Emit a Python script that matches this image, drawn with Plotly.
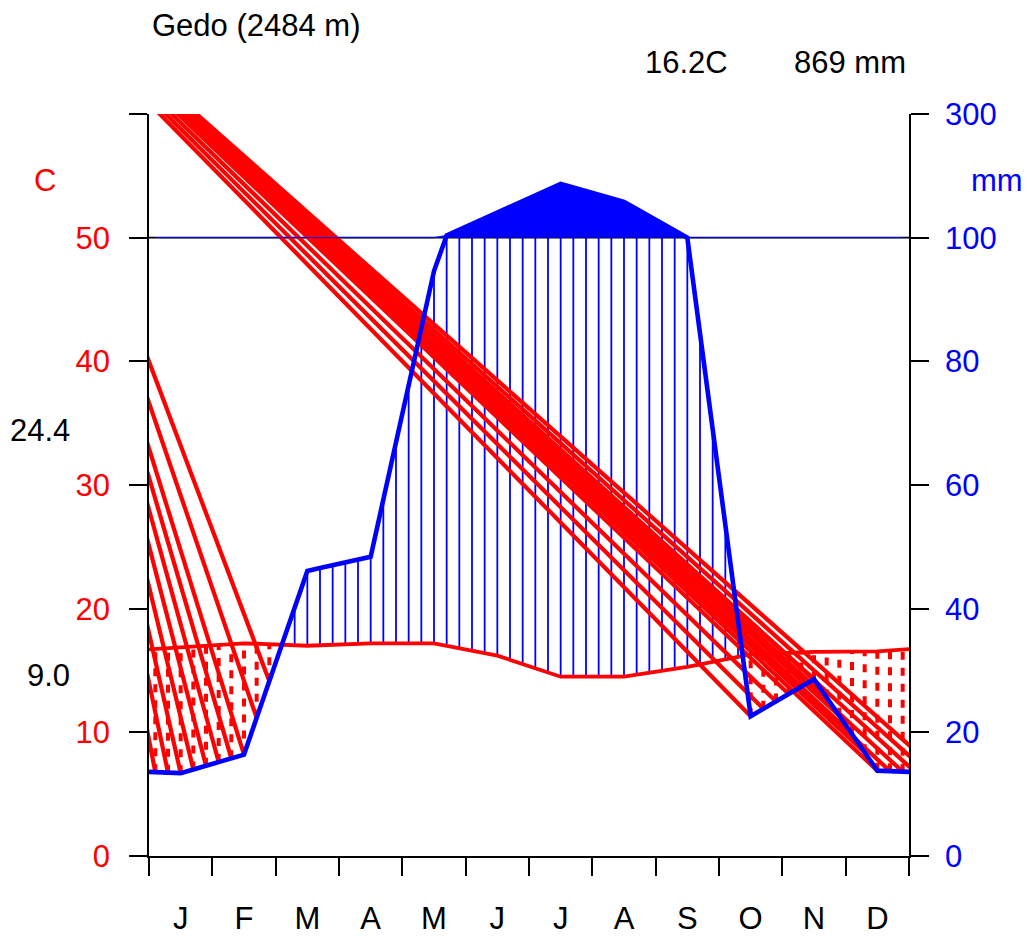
import numpy as np
import plotly.graph_objects as go

# ---------------- data ----------------
months = ["J", "F", "M", "A", "M", "J", "J", "A", "S", "O", "N", "D"]
temp = [16.9, 17.2, 17.0, 17.2, 17.2, 16.2, 14.5, 14.5, 15.3, 16.3, 16.5, 16.55]
prec = [13.4, 16.4, 46.1, 48.4, 94.6, 140.0, 187.0, 158.0, 100.0, 22.6, 28.6, 13.8]
station = "Gedo (2484 m)"
mean_temp_label = "16.2C"
total_prec_label = "869 mm"
warm_max_label = "24.4"
cold_min_label = "9.0"
left_tickvals = [0, 10, 20, 30, 40, 50, 60]
left_ticktext = ["0", "10", "20", "30", "40", "50", ""]
right_ticktext = ["0", "20", "40", "60", "80", "100", "300"]

# apex points (data units) towards which the red hatch lines run
apex_left = (-2.42, 72.9)
apex_right = (-3.68, 80.1)

RED = "#FF0000"
BLUE = "#0000FF"
FONT = "Liberation Sans, Arial, Helvetica, sans-serif"
FS = 31


def scale_p(p):
    p = np.asarray(p, dtype=float)
    return np.where(p <= 100, p / 2.0, 50 + (p - 100) / 20.0)


# extended series (Dec before Jan, Jan after Dec)
xm = np.arange(-0.5, 13.0, 1.0)
p2_raw = np.array([prec[-1]] + prec + [prec[0]])
t2 = np.array([temp[-1]] + temp + [temp[0]])

# interpolated points (66 points from -0.5 to 12.5)
xi = np.linspace(-0.5, 12.5, 66)
pi = scale_p(np.interp(xi, xm, p2_raw))
ti = np.interp(xi, xm, t2)

fig = go.Figure()

# black 100 mm line
fig.add_trace(go.Scatter(x=[0, 12], y=[50, 50], mode="lines",
                         line=dict(color="black", width=1.8), hoverinfo="skip"))

# wet period: vertical blue lines
wx, wy = [], []
for x0, pp, tt in zip(xi, pi, ti):
    if 0 < x0 < 12 and pp > tt:
        wx += [x0, x0, None]
        wy += [tt, min(pp, 50), None]
fig.add_trace(go.Scatter(x=wx, y=wy, mode="lines",
                         line=dict(color=BLUE, width=1.8), hoverinfo="skip"))

# dry period: dotted red lines
dx, dy = [], []
for x0, pp, tt in zip(xi, pi, ti):
    if 0 < x0 < 12 and pp < tt:
        dx += [x0, x0, None]
        dy += [pp, tt, None]
fig.add_trace(go.Scatter(x=dx, y=dy, mode="lines",
                         line=dict(color=RED, width=4.0, dash="8px,8px"),
                         hoverinfo="skip"))

# red hatch lines of the dry period
hx, hy = [], []
for x0, pp, tt in zip(xi, pi, ti):
    if pp < tt:
        ax, ay = apex_left if x0 < 6 else apex_right
        hx += [ax, x0, None]
        hy += [ay, pp, None]
fig.add_trace(go.Scatter(x=hx, y=hy, mode="lines",
                         line=dict(color=RED, width=4.2), hoverinfo="skip"))

# precipitation above 100 mm: solid fill
selx = (xi >= 0) & (xi <= 12)
xf = xi[selx]
yf = np.maximum(pi[selx], 50)
fig.add_trace(go.Scatter(x=np.concatenate([[xf[0]], xf, [xf[-1]]]),
                         y=np.concatenate([[50], yf, [50]]),
                         mode="lines", fill="toself", fillcolor=BLUE,
                         line=dict(color=BLUE, width=1), hoverinfo="skip"))

# temperature line
fig.add_trace(go.Scatter(x=xm, y=t2, mode="lines",
                         line=dict(color=RED, width=3.8), hoverinfo="skip"))
# precipitation line (through the interpolated points)
fig.add_trace(go.Scatter(x=xi, y=pi, mode="lines",
                         line=dict(color=BLUE, width=4.6), hoverinfo="skip"))

# invisible trace for the right axis
fig.add_trace(go.Scatter(x=[0], y=[0], yaxis="y2", mode="markers",
                         marker=dict(opacity=0), hoverinfo="skip"))

# page-pixel layout (the page body adds an 8 px offset)
OFF = 8
L, R, T, B = 149, 909, 114, 856
W, H = 1029 - OFF, 939 - OFF


def px(x):
    return (x - L) / (R - L)


def py(y):
    return (B - y) / (B - T)


annots = [
    dict(text=station, x=px(150), y=py(25), color="black", xanchor="left"),
    dict(text=mean_temp_label, x=px(730), y=py(62), color="black", xanchor="right"),
    dict(text=total_prec_label, x=px(908), y=py(62), color="black", xanchor="right"),
    dict(text="C", x=px(45), y=py(181), color=RED, xanchor="center"),
    dict(text="mm", x=px(997), y=py(181), color=BLUE, xanchor="center"),
    dict(text=warm_max_label, x=px(72), y=py(430), color="black", xanchor="right"),
    dict(text=cold_min_label, x=px(72), y=py(675), color="black", xanchor="right"),
]
annotations = []
for a in annots:
    annotations.append(dict(text=a["text"], x=a["x"], y=a["y"], xref="paper", yref="paper",
                            xanchor=a["xanchor"], yanchor="middle", showarrow=False,
                            font=dict(family=FONT, size=FS, color=a["color"])))

fig.update_layout(
    width=W, height=H,
    margin=dict(l=L - OFF, r=(W + OFF) - R, t=T - OFF, b=(H + OFF) - B, pad=0,
                autoexpand=False),
    paper_bgcolor="white", plot_bgcolor="white",
    showlegend=False,
    annotations=annotations,
    xaxis=dict(range=[0, 12], showgrid=False, zeroline=False, automargin=False,
               tickvals=[i + 0.5 for i in range(12)], ticktext=months,
               ticks="", ticklen=0, showline=True, linecolor="black", linewidth=1.8,
               tickfont=dict(family=FONT, size=FS, color="black"),
               ticklabelstandoff=34,
               minor=dict(tickvals=list(range(13)), ticks="outside", ticklen=18,
                          tickwidth=1.8, tickcolor="black", showgrid=False)),
    yaxis=dict(range=[0, 60], showgrid=False, zeroline=False, automargin=False,
               tickvals=left_tickvals, ticktext=left_ticktext,
               ticks="outside", ticklen=18, tickwidth=1.8, tickcolor="black",
               showline=True, linecolor="black", linewidth=1.8,
               tickfont=dict(family=FONT, size=FS, color=RED),
               ticklabelstandoff=13),
    yaxis2=dict(range=[0, 60], overlaying="y", side="right", showgrid=False,
                zeroline=False, automargin=False,
                tickvals=left_tickvals, ticktext=right_ticktext,
                ticks="outside", ticklen=18, tickwidth=1.8, tickcolor="black",
                showline=True, linecolor="black", linewidth=1.8,
                tickfont=dict(family=FONT, size=FS, color=BLUE),
                ticklabelstandoff=10),
)

fig.write_html("out.html")
